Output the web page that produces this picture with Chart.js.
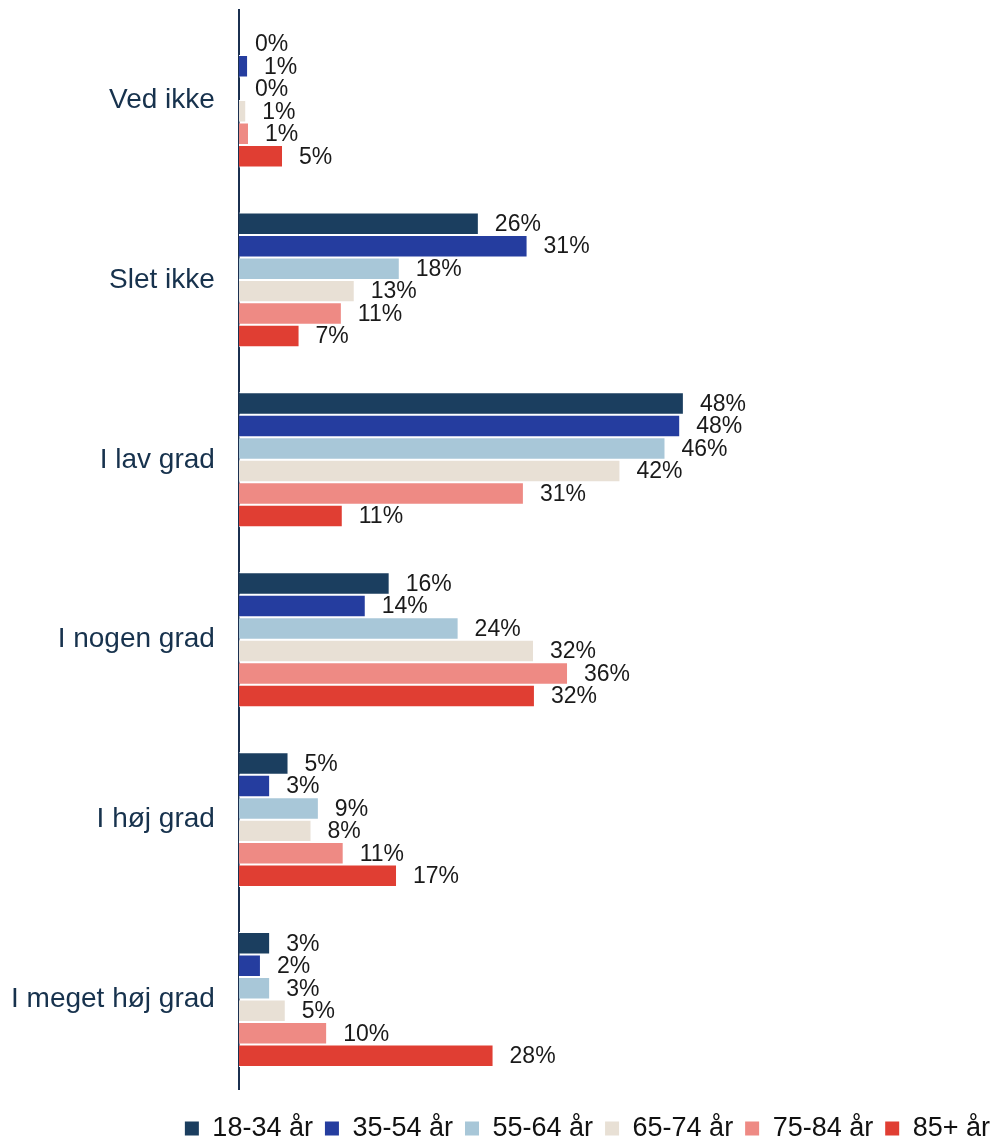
<!DOCTYPE html>
<html>
<head>
<meta charset="utf-8">
<script src="https://cdn.jsdelivr.net/npm/chart.js@4/dist/chart.umd.min.js"></script>
<style>
  html, body { margin: 0; padding: 0; background: #fff; width: 1002px; height: 1139px; overflow: hidden; }
  #wrap { position: relative; width: 1002px; height: 1152px; }
</style>
</head>
<body>
<div id="wrap"><canvas id="chart"></canvas></div>
<script>
const categories = ['Ved ikke', 'Slet ikke', 'I lav grad', 'I nogen grad', 'I høj grad', 'I meget høj grad'];
const ageGroups = ['18-34 år', '35-54 år', '55-64 år', '65-74 år', '75-84 år', '85+ år'];

const age1834 = [0, 26.1, 48.4, 16.4, 5.4, 3.4];
const age3554 = [1.0, 31.4, 48.0, 13.8, 3.4, 2.4];
const age5564 = [0, 17.5, 46.4, 23.9, 8.7, 3.4];
const age6574 = [0.8, 12.6, 41.5, 32.1, 7.9, 5.1];
const age7584 = [1.1, 11.2, 31.0, 35.8, 11.4, 9.6];
const age85 = [4.8, 6.6, 11.3, 32.2, 17.2, 27.7];

const seriesValues = [age1834, age3554, age5564, age6574, age7584, age85];
const colors = ['#1b3e5f', '#253d9f', '#a8c7d8', '#e8e0d5', '#ee8a84', '#e03e33'];

const FONT = '"Liberation Sans", Arial, sans-serif';

// percent labels just right of each bar
const valueLabels = {
  id: 'valueLabels',
  afterDatasetsDraw(chart) {
    const ctx = chart.ctx;
    ctx.save();
    ctx.font = '23px ' + FONT;
    ctx.fillStyle = '#1a1a1a';
    ctx.textBaseline = 'middle';
    ctx.textAlign = 'left';
    chart.data.datasets.forEach((ds, i) => {
      chart.getDatasetMeta(i).data.forEach((bar, j) => {
        ctx.fillText(Math.round(ds.data[j]) + '%', bar.x + 16, bar.y + 1);
      });
    });
    ctx.restore();
  }
};

new Chart(document.getElementById('chart').getContext('2d'), {
  type: 'bar',
  data: {
    labels: categories,
    datasets: ageGroups.map((g, i) => ({
      label: g,
      data: seriesValues[i],
      backgroundColor: colors[i],
      borderColor: '#ffffff',
      borderWidth: 1,
      categoryPercentage: 0.75,
      barPercentage: 1.0
    }))
  },
  options: {
    indexAxis: 'y',
    responsive: true,
    maintainAspectRatio: false,
    animation: false,
    layout: { padding: { top: 10, left: 0, right: 0, bottom: 0 } },
    plugins: {
      tooltip: { enabled: false },
      legend: {
        position: 'bottom',
        align: 'end',
        title: { display: true, text: ' ', font: { size: 10 }, padding: { top: 0, bottom: 1.5 } },
        labels: {
          boxWidth: 14,
          boxHeight: 14,
          padding: 12,
          color: '#111111',
          font: { family: FONT, size: 27 },
          generateLabels: (chart) =>
            Chart.defaults.plugins.legend.labels.generateLabels(chart).map(l => ({ ...l, lineWidth: 0 }))
        }
      }
    },
    scales: {
      x: { display: false, min: 0, max: 83 },
      y: {
        grid: { display: false, drawTicks: false },
        border: { display: true, color: '#1b3050', width: 2 },
        ticks: { padding: 24, color: '#17324d', font: { family: FONT, size: 28 } },
        afterFit(scale) {
          // no extra room above/below for tick labels, and trim the outer label gap
          scale.paddingTop = 0;
          scale.paddingBottom = 0;
          scale.width -= 13;
        }
      }
    }
  },
  plugins: [valueLabels]
});
</script>
</body>
</html>
